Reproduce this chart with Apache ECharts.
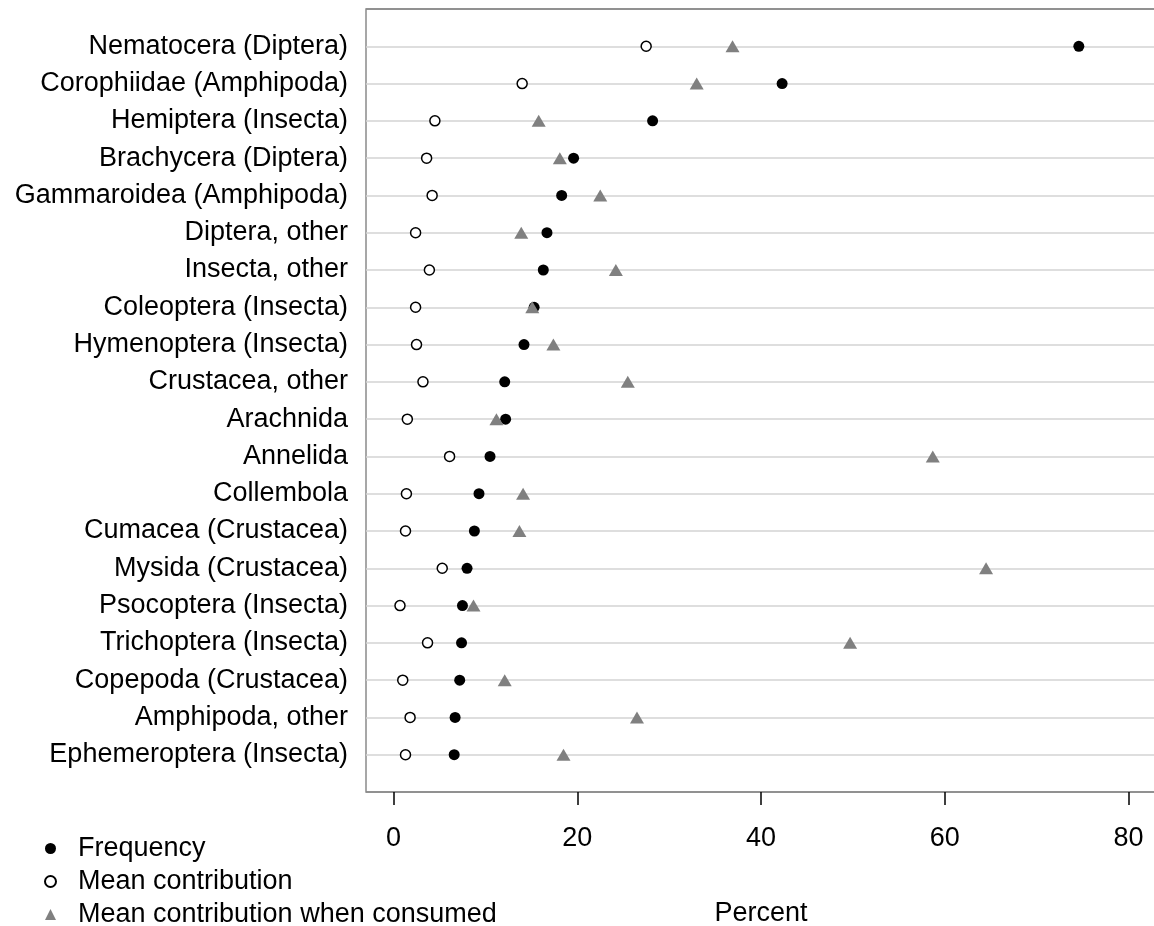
<!DOCTYPE html>
<html>
<head>
<meta charset="utf-8">
<script src="https://cdn.jsdelivr.net/npm/echarts@6/dist/echarts.min.js"></script>
<style>
html,body{margin:0;padding:0;background:#fff;}
#chart{width:1154px;height:926px;}
</style>
</head>
<body>
<div id="chart"></div>
<script>
const categories = [
  "Nematocera (Diptera)", "Corophiidae (Amphipoda)", "Hemiptera (Insecta)",
  "Brachycera (Diptera)", "Gammaroidea (Amphipoda)", "Diptera, other",
  "Insecta, other", "Coleoptera (Insecta)", "Hymenoptera (Insecta)",
  "Crustacea, other", "Arachnida", "Annelida", "Collembola",
  "Cumacea (Crustacea)", "Mysida (Crustacea)", "Psocoptera (Insecta)",
  "Trichoptera (Insecta)", "Copepoda (Crustacea)", "Amphipoda, other",
  "Ephemeroptera (Insecta)"
];
const frequency = [74.6, 42.3, 28.2, 19.6, 18.3, 16.7, 16.3, 15.3, 14.2, 12.1,
                   12.2, 10.5, 9.3, 8.8, 8.0, 7.5, 7.4, 7.2, 6.7, 6.6];
const meanContribution = [27.5, 14.0, 4.5, 3.6, 4.2, 2.4, 3.9, 2.4, 2.5, 3.2,
                          1.5, 6.1, 1.4, 1.3, 5.3, 0.7, 3.7, 1.0, 1.8, 1.3];
const meanWhenConsumed = [36.9, 33.0, 15.8, 18.1, 22.5, 13.9, 24.2, 15.1, 17.4, 25.5,
                          11.2, 58.7, 14.1, 13.7, 64.5, 8.7, 49.7, 12.1, 26.5, 18.5];
const xTicks = [0, 20, 40, 60, 80];
const seriesNames = ["Frequency", "Mean contribution", "Mean contribution when consumed"];

const toPoints = arr => arr.map((v, i) => [v, i + 1]);

const gridColors = [];
for (let i = 0; i <= categories.length + 1; i++) {
  gridColors.push(i === 0 || i === categories.length + 1 ? '#8a8a8a' : '#d3d3d3');
}

const chart = echarts.init(document.getElementById('chart'), null, {renderer: 'canvas'});
const font = "'Liberation Sans', Arial, sans-serif";
const fs = 27;
chart.setOption({
  animation: false,
  backgroundColor: '#fff',
  textStyle: {fontFamily: font},
  grid: {
    left: 366, top: 9, width: 790, height: 783,
    outerBoundsMode: 'none', containLabel: false,
    show: true, borderColor: '#8a8a8a', borderWidth: 1.5, backgroundColor: 'transparent'
  },
  legend: {
    orient: 'vertical',
    left: 44, top: 835,
    height: 120,
    padding: 0,
    itemWidth: 11, itemHeight: 11,
    itemGap: 6,
    data: seriesNames,
    textStyle: {fontSize: fs, color: '#000', fontFamily: font, lineHeight: 26, padding: [0, 0, 0, 17]}
  },
  xAxis: {
    type: 'value',
    position: 'bottom',
    min: -3, max: 83,
    name: 'Percent',
    nameLocation: 'middle',
    nameGap: 108,
    nameTextStyle: {fontSize: fs, color: '#000', fontFamily: font},
    axisLine: {show: false, onZero: false},
    axisTick: {show: true, inside: false, length: 13, customValues: xTicks,
               lineStyle: {color: '#000', width: 1.5}},
    axisLabel: {customValues: xTicks, fontSize: fs, color: '#000', margin: 33, fontFamily: font},
    splitLine: {show: false}
  },
  yAxis: {
    type: 'value',
    min: 0, max: categories.length + 1,
    interval: 1,
    inverse: true,
    axisLine: {show: false, onZero: false},
    axisTick: {show: false},
    axisLabel: {
      fontSize: fs, color: '#000', margin: 18, fontFamily: font,
      formatter: v => (v >= 1 && v <= categories.length) ? categories[v - 1] : ''
    },
    splitLine: {show: true, lineStyle: {color: gridColors, width: 1.5}}
  },
  series: [
    {
      name: seriesNames[0], type: 'scatter', symbol: 'circle', symbolSize: 11,
      itemStyle: {color: '#000', opacity: 1},
      data: toPoints(frequency), z: 3
    },
    {
      name: seriesNames[1], type: 'scatter', symbol: 'circle', symbolSize: 10,
      itemStyle: {color: '#fff', borderColor: '#000', borderWidth: 1.5, opacity: 1},
      data: toPoints(meanContribution), z: 3
    },
    {
      name: seriesNames[2], type: 'scatter', symbol: 'triangle', symbolSize: [14, 12],
      itemStyle: {color: '#808080', opacity: 1},
      data: toPoints(meanWhenConsumed), z: 4
    }
  ]
});
</script>
</body>
</html>
